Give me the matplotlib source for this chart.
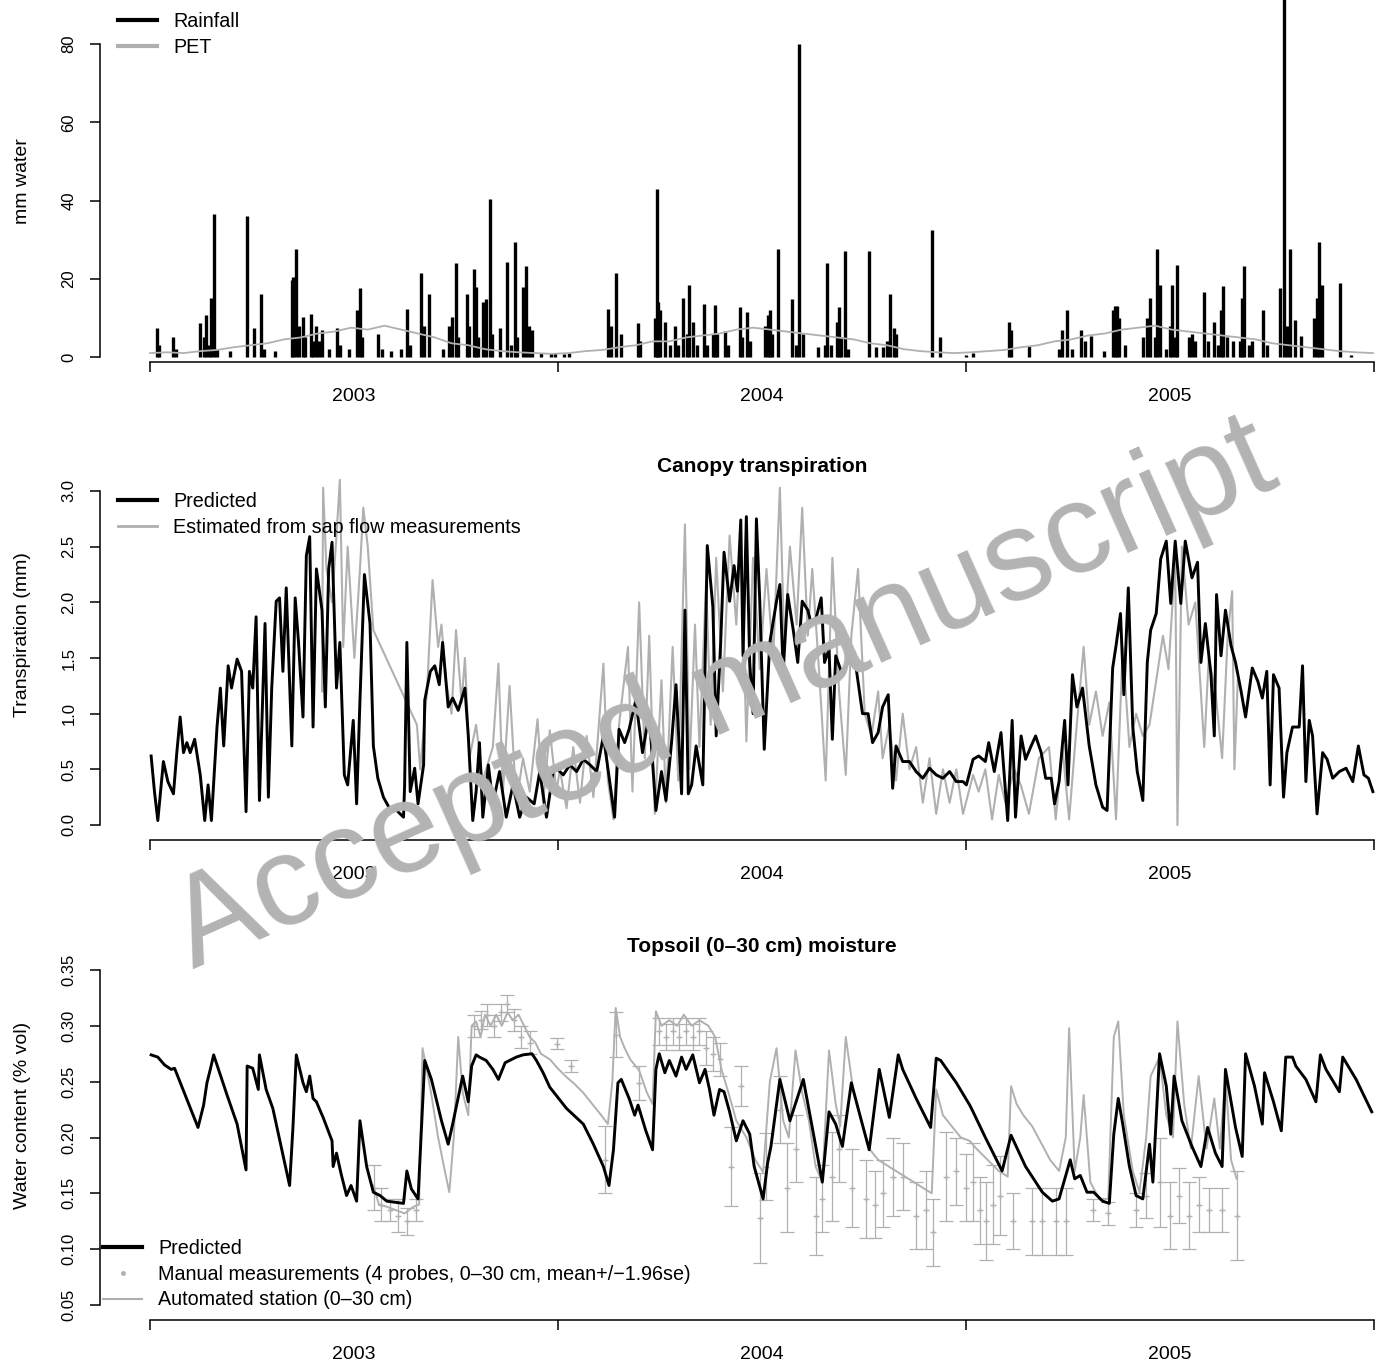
import numpy as np
import matplotlib.pyplot as plt
from matplotlib.lines import Line2D
import matplotlib.transforms as mtransforms

plt.rcParams['font.family'] = ['Liberation Sans', 'DejaVu Sans']

GREY = '#b0b0b0'

# ---------------- data (day 0 = 1 Jan 2003) ----------------
# rainfall events (mm)
rain_day = [6, 8, 21, 23, 45, 48, 50, 53, 55, 57, 60, 72, 87, 93, 99, 102, 112, 127, 128, 131, 133,
            137, 139, 144, 146, 149, 151, 154, 160, 167, 170, 178, 185, 188, 190, 204, 208, 216, 225,
            230, 233, 243, 245, 250, 262, 268, 270, 274, 276, 284, 286, 290, 292, 294, 298, 301, 304,
            306, 313, 320, 323, 327, 329, 334, 337, 339, 342, 350,
            359, 363, 371, 375, 410, 413, 417, 422, 437, 439, 452, 454, 455, 457, 461, 466, 470, 473,
            477, 481, 483, 486, 490, 496, 499, 504, 506, 508, 515, 518, 528, 530, 535, 537, 551, 553,
            555, 557, 562, 575, 578, 581, 585, 598, 604, 606, 610, 615, 617, 619, 622, 625, 644, 650,
            656, 660, 663, 666, 668, 700, 707,
            731, 737, 769, 771, 787, 814, 817, 821, 826, 834, 837, 843, 854, 862, 864, 866, 868, 873,
            889, 893, 895, 900, 902, 904, 910, 913, 915, 918, 920, 930, 933, 936, 944, 947, 953, 956,
            959, 961, 964, 970, 976, 978, 980, 984, 987, 997, 1000, 1012, 1015, 1018, 1021, 1025,
            1031, 1042, 1045, 1047, 1049, 1066, 1075]
rain_mm = [7.4, 3, 5, 2, 8.6, 5, 10.7, 3, 15, 36.5, 2, 1.5, 36, 7.4, 16, 2, 1.5, 19.8, 20.5, 27.6, 8,
           10.3, 5, 11, 4, 7.8, 4, 7, 2, 7.4, 3, 2, 12, 17.7, 5, 5.8, 2, 1.5, 2,
           12.3, 3, 21.4, 8, 16, 2, 8, 10.3, 23.9, 5, 16, 8, 22.6, 18, 5, 14, 14.8, 40.5,
           6, 7.4, 24.3, 3, 29.4, 5, 18, 23.2, 8, 7, 1,
           1, 1, 0.8, 1, 12.3, 8, 21.4, 5.8, 8.6, 4, 10, 43, 14, 12, 9, 3, 7.8, 3,
           15.2, 6, 18.5, 9, 3, 13.6, 3, 6, 13.2, 6, 6.6, 3, 12.8, 5, 11.5, 4, 8, 10.7,
           12, 6, 27.6, 14.8, 3, 80, 5.8, 2.5, 3, 24, 3, 9, 12.8, 5, 27, 2, 27, 2.5,
           2.5, 4, 16, 7.4, 6, 32.5, 5,
           0.5, 1, 9, 7, 2.9, 2, 7, 12, 2, 7, 4, 5.3, 1.5, 12, 13, 13, 10, 3,
           5, 9.9, 15.2, 5, 27.5, 18.5, 2, 8, 18.5, 5, 23.5, 5, 5.8, 4, 16.5, 4, 9, 3,
           12, 18.1, 5, 4, 4, 15.2, 23.3, 3, 4, 12, 3, 17.7, 95, 8, 27.5, 9.5,
           5.3, 10, 15, 29.5, 18.5, 19, 0.5]

# potential evapotranspiration (mm)
pet_day = [0, 15, 30, 45, 60, 75, 90, 105, 120, 135, 150, 165, 180, 195, 210, 225, 240, 255, 270,
           285, 300, 315, 330, 345, 360, 375, 390, 405, 420, 435, 450, 465, 480, 495, 510, 525, 540,
           555, 570, 585, 600, 615, 630, 645, 660, 675, 690, 705, 720, 735, 750, 765, 780, 795, 810,
           825, 840, 855, 870, 885, 900, 915, 930, 945, 960, 975, 990, 1005, 1020, 1035, 1050, 1065,
           1080, 1095]
pet_mm = [1.0, 1.2, 1.0, 1.5, 1.8, 2.5, 3.0, 3.5, 4.5, 5.0, 6.0, 6.5, 7.5, 7.0, 8.0, 7.0, 6.0, 5.0,
          3.5, 3.0, 2.0, 1.5, 1.2, 1.0, 0.8, 1.0, 1.5, 1.8, 2.5, 3.0, 4.0, 4.0, 5.0, 5.5, 6.0, 7.0,
          7.5, 7.0, 6.5, 6.0, 5.5, 5.0, 4.5, 3.5, 3.0, 2.0, 1.5, 1.2, 1.0, 1.2, 1.5, 1.8, 2.5, 3.0,
          4.0, 4.5, 5.5, 6.0, 7.0, 7.5, 8.0, 7.0, 6.5, 6.0, 5.5, 5.0, 4.5, 3.5, 3.0, 2.5, 2.0, 1.5,
          1.2, 1.0]

# canopy transpiration, predicted (mm)
tp_pred_day = [1, 4, 7, 12, 16, 21, 24, 27, 30, 33, 36, 40, 45, 49, 52, 55, 60, 63, 66, 70, 73, 78,
               82, 86, 89, 92, 95, 98, 103, 106, 109, 113, 116, 119, 122, 127, 130, 133, 137, 140,
               143, 146, 149, 154, 157, 160, 163, 167, 170, 174, 177, 182, 185, 188, 192, 197, 200,
               204, 209, 215, 221, 227, 228, 230, 233, 237, 240, 245, 246, 251, 255, 259, 262, 267,
               271, 276, 282, 285, 289, 292, 295, 298, 303, 307, 313, 319, 325, 331, 337, 344, 349,
               355, 361,
               364, 370, 376, 382, 388, 394, 400, 406, 412, 416, 420, 425, 429, 435, 441, 447, 453,
               458, 462, 467, 471, 476, 479, 482, 485, 489, 495, 499, 504, 507, 511, 514, 519, 523,
               526, 529, 531, 534, 537, 540, 543, 546, 550, 555, 561, 564, 567, 571, 576, 580, 584,
               589, 592, 596, 601, 604, 608, 611, 614, 620, 626, 632, 638, 643, 647, 652, 656, 661,
               665, 668, 674, 680, 686, 692, 698, 704, 710, 716, 722, 728,
               731, 737, 742, 748, 751, 756, 762, 768, 772, 775, 780, 784, 789, 793, 798, 802, 807,
               810, 814, 819, 822, 826, 830, 835, 841, 847, 853, 857, 862, 865, 869, 872, 876, 880,
               884, 889, 893, 896, 901, 905, 910, 914, 918, 923, 927, 933, 938, 941, 945, 950, 953,
               955, 959, 963, 968, 972, 977, 981, 987, 992, 996, 1000, 1003, 1006, 1011, 1015, 1018,
               1023, 1029, 1032, 1035, 1038, 1041, 1045, 1050, 1054, 1059, 1065, 1071, 1077, 1082,
               1087, 1091, 1095]
tp_pred = [0.62, 0.30, 0.04, 0.57, 0.39, 0.28, 0.65, 0.97, 0.65, 0.74, 0.65, 0.77, 0.45, 0.04, 0.36,
           0.04, 0.88, 1.23, 0.71, 1.43, 1.23, 1.49, 1.38, 0.12, 1.38, 1.23, 1.87, 0.22, 1.81, 0.25,
           1.23, 2.01, 2.04, 1.38, 2.13, 0.71, 2.04, 1.64, 0.97, 2.42, 2.59, 0.88, 2.30, 1.93, 1.06,
           2.30, 2.54, 1.23, 1.64, 0.45, 0.36, 0.94, 0.19, 1.12, 2.25, 1.81, 0.71, 0.42, 0.25, 0.14,
           0.13, 0.07, 0.36, 1.64, 0.30, 0.51, 0.19, 0.54, 1.12, 1.38, 1.43, 1.26, 1.64, 1.06, 1.14,
           1.03, 1.23, 0.80, 0.04, 0.30, 0.74, 0.07, 0.54, 0.19, 0.48, 0.07, 0.36, 0.07, 0.25, 0.19,
           0.48, 0.07, 0.48,
           0.51, 0.45, 0.54, 0.48, 0.59, 0.54, 0.48, 0.80, 0.36, 0.07, 0.86, 0.74, 0.86, 1.12, 0.65,
           1.00, 0.13, 0.48, 0.22, 0.74, 1.26, 0.28, 1.93, 0.28, 0.36, 0.71, 0.36, 2.51, 1.96, 0.80,
           1.64, 2.45, 2.01, 2.33, 2.10, 2.74, 1.52, 2.77, 1.46, 1.00, 2.75, 2.01, 0.68, 1.64, 2.01,
           2.16, 1.38, 2.07, 1.75, 1.46, 2.01, 1.93, 1.81, 1.84, 2.04, 1.46, 1.58, 0.77, 1.52, 1.35,
           1.49, 1.43, 1.00, 1.00, 0.74, 0.83, 1.06, 1.17, 0.33, 0.71, 0.57, 0.57, 0.48, 0.42, 0.51,
           0.45, 0.42, 0.48, 0.39, 0.39,
           0.36, 0.59, 0.62, 0.57, 0.74, 0.48, 0.83, 0.04, 0.94, 0.07, 0.80, 0.59, 0.71, 0.80, 0.65,
           0.42, 0.42, 0.19, 0.39, 0.94, 0.36, 1.35, 1.06, 1.23, 0.71, 0.36, 0.16, 0.13, 1.41, 1.61,
           1.90, 1.17, 2.13, 0.88, 0.48, 0.22, 1.46, 1.75, 1.90, 2.39, 2.55, 1.99, 2.55, 1.99, 2.55,
           2.22, 2.36, 1.46, 1.81, 1.35, 0.80, 2.07, 1.52, 1.93, 1.61, 1.46, 1.20, 0.97, 1.41, 1.29,
           1.14, 1.38, 0.36, 1.35, 1.23, 0.25, 0.65, 0.88, 0.88, 1.43, 0.39, 0.94, 0.80, 0.10, 0.65,
           0.59, 0.42, 0.48, 0.51, 0.39, 0.71, 0.45, 0.42, 0.30]

# canopy transpiration estimated from sap flow (mm)
tp_est_day = [154, 155, 158, 163, 167, 170, 173, 177, 183, 188, 191, 195, 200, 239, 242, 248, 253,
              258, 261, 265, 270, 274, 279, 282, 286, 292, 298, 307, 312, 316, 322, 328, 334, 340,
              347, 352, 358, 364,
              367, 373, 379, 385, 391, 397, 406, 410, 415, 420, 428, 432, 438, 443, 447, 452, 458,
              462, 468, 473, 479, 483, 488, 492, 498, 502, 507, 513, 519, 525, 529, 534, 540, 546,
              552, 558, 564, 568, 573, 579, 584, 589, 593, 599, 605, 611, 617, 623, 628, 634, 640,
              646, 652, 656, 662, 668, 674, 680, 686, 692, 698, 704, 710, 716, 722, 728,
              737, 742, 748, 754, 760, 766, 774, 780, 787, 796, 805, 811, 817, 823, 829, 836, 841,
              847, 853, 859, 865, 871, 877, 883, 889, 895, 901, 907, 912, 918, 920, 924, 930, 936,
              944, 948, 954, 960, 965, 969, 971, 974]
tp_est = [1.2, 3.03, 2.3, 2.0, 2.6, 3.1, 1.6, 2.5, 1.5, 2.3, 2.85, 2.5, 1.75, 0.9, 0.5, 1.2, 2.2,
          1.6, 1.8, 1.3, 1.0, 1.75, 1.1, 1.5, 0.6, 0.9, 0.4, 0.7, 1.45, 0.3, 1.25, 0.2, 0.6, 0.3,
          0.95, 0.2, 0.85, 0.3,
          0.5, 0.15, 0.7, 0.2, 0.8, 0.25, 1.45, 0.4, 0.05, 0.9, 1.6, 0.3, 2.0, 0.6, 1.7, 0.1, 1.3,
          0.2, 1.6, 0.4, 2.7, 0.5, 1.8, 0.7, 2.2, 0.9, 2.4, 1.2, 2.6, 1.8, 2.65, 0.75, 2.4, 1.4,
          2.3, 1.5, 3.03, 1.6, 2.5, 1.8, 2.85, 1.7, 2.3, 1.4, 0.4, 2.4, 1.2, 0.45, 1.7, 2.3, 1.0,
          0.8, 1.2, 0.6, 0.9, 0.4, 1.0, 0.5, 0.7, 0.2, 0.6, 0.1, 0.5, 0.2, 0.5, 0.1,
          0.45, 0.3, 0.5, 0.05, 0.45, 0.2, 0.5, 0.35, 0.1, 0.6, 0.7, 0.05, 0.7, 0.05, 0.8, 1.6, 0.9,
          1.2, 0.8, 1.1, 0.05, 1.6, 0.7, 1.0, 0.8, 0.9, 1.3, 1.7, 1.4, 2.4, 0.0, 2.5, 1.8, 2.0,
          0.7, 1.5, 1.2, 0.6, 1.7, 2.1, 0.5, 1.3]

# topsoil moisture, predicted (vol fraction)
sm_pred_day = [1, 7, 13, 19, 22, 43, 48, 51, 54, 57, 69, 78, 86, 87, 92, 97, 98, 104, 110, 125, 128,
               131, 137, 140, 143, 146, 149, 155, 163, 164, 167, 171, 176, 180, 185, 188, 194, 200,
               206, 212, 227, 230, 234, 240, 246, 252, 261, 267, 271, 280, 285, 288, 292, 295, 301,
               307, 312, 318, 322, 328, 334, 342, 346, 352,
               358, 373, 388, 397, 406, 411, 415, 419, 422, 429, 434, 437, 444, 450, 453, 456, 461,
               465, 471, 476, 480, 486, 492, 497, 501, 505, 510, 514, 519, 525, 531, 537, 541, 549,
               553, 556, 564, 573, 585, 593, 602, 608, 614, 620, 628, 637, 644, 653, 662, 670, 674,
               686, 699, 704, 708, 722, 734,
               737, 748, 763, 771, 784, 799, 808, 814, 820, 824, 828, 833, 839, 845, 853, 859, 863,
               867, 871, 877, 883, 889, 895, 898, 904, 910, 914, 917, 924, 933, 941, 947, 954, 960,
               963, 972, 978, 981, 989, 996, 998, 1006, 1013, 1017, 1023, 1026, 1035, 1044, 1048,
               1053, 1065, 1068, 1080, 1094]
sm_pred = [0.274, 0.272, 0.265, 0.261, 0.262, 0.209, 0.229, 0.249, 0.261, 0.274, 0.238, 0.212, 0.171,
           0.264, 0.262, 0.243, 0.274, 0.243, 0.226, 0.157, 0.209, 0.274, 0.249, 0.241, 0.255, 0.235,
           0.232, 0.218, 0.197, 0.174, 0.186, 0.168, 0.148, 0.157, 0.143, 0.215, 0.174, 0.151, 0.148,
           0.143, 0.141, 0.170, 0.154, 0.145, 0.269, 0.252, 0.215, 0.194, 0.212, 0.255, 0.232, 0.264,
           0.274, 0.272, 0.269, 0.261, 0.252, 0.267, 0.269, 0.272, 0.274, 0.275, 0.269, 0.258,
           0.245, 0.226, 0.212, 0.194, 0.174, 0.157, 0.189, 0.249, 0.252, 0.235, 0.220, 0.229, 0.206,
           0.189, 0.261, 0.275, 0.258, 0.269, 0.255, 0.272, 0.261, 0.274, 0.249, 0.261, 0.243, 0.220,
           0.243, 0.241, 0.223, 0.197, 0.215, 0.203, 0.174, 0.145, 0.177, 0.192, 0.252, 0.215, 0.252,
           0.209, 0.160, 0.223, 0.212, 0.192, 0.249, 0.215, 0.189, 0.261, 0.218, 0.274, 0.261, 0.235,
           0.209, 0.271, 0.269, 0.249, 0.229,
           0.223, 0.200, 0.170, 0.202, 0.174, 0.151, 0.143, 0.145, 0.166, 0.180, 0.163, 0.166, 0.151,
           0.151, 0.143, 0.141, 0.203, 0.235, 0.212, 0.174, 0.148, 0.145, 0.194, 0.160, 0.275, 0.246,
           0.203, 0.255, 0.215, 0.192, 0.174, 0.209, 0.186, 0.174, 0.261, 0.209, 0.183, 0.275, 0.246,
           0.212, 0.258, 0.232, 0.206, 0.272, 0.272, 0.264, 0.252, 0.232, 0.274, 0.261, 0.241, 0.272,
           0.252, 0.223]

# automated station (0-30 cm)
sm_auto_day = [200, 205, 212, 220, 228, 236, 241, 244, 248, 252, 258, 264, 268, 272, 276, 280, 285,
               288, 292, 296, 300, 305, 310, 315, 320, 325, 330, 335, 340, 345, 350, 358,
               365, 372, 380, 388, 396, 404, 410, 414, 417, 421, 425, 430, 438, 445, 450, 453, 458,
               465, 472, 478, 485, 492, 500, 506, 512, 518, 525, 534, 542, 549, 555, 561, 567, 572,
               578, 584, 590, 596, 602, 608, 614, 618, 623, 630, 637, 644, 652, 660, 668, 676, 684,
               692, 700, 704, 710, 718, 726, 734,
               740, 750, 760, 768, 771, 776, 782, 790, 798, 806, 814, 820, 823, 828, 833, 836, 842,
               850, 858, 863, 867, 872, 880, 886, 892, 896, 904, 910, 916, 920, 926, 932, 939, 946,
               953, 958, 963, 968, 973]
sm_auto = [0.157, 0.140, 0.138, 0.135, 0.132, 0.138, 0.140, 0.280, 0.260, 0.238, 0.200, 0.170,
           0.151, 0.200, 0.290, 0.240, 0.220, 0.300, 0.304, 0.290, 0.310, 0.300, 0.310, 0.300, 0.312,
           0.305, 0.310, 0.300, 0.290, 0.285, 0.275, 0.270,
           0.262, 0.255, 0.248, 0.240, 0.230, 0.220, 0.212, 0.250, 0.316, 0.290, 0.280, 0.270, 0.260,
           0.240, 0.230, 0.313, 0.300, 0.305, 0.300, 0.310, 0.300, 0.305, 0.300, 0.290, 0.260, 0.240,
           0.215, 0.200, 0.180, 0.169, 0.250, 0.280, 0.215, 0.200, 0.278, 0.240, 0.215, 0.174, 0.160,
           0.278, 0.230, 0.210, 0.290, 0.240, 0.215, 0.190, 0.180, 0.175, 0.170, 0.165, 0.160, 0.155,
           0.150, 0.243, 0.220, 0.210, 0.200, 0.197,
           0.190, 0.180, 0.170, 0.165, 0.246, 0.230, 0.220, 0.210, 0.195, 0.180, 0.170, 0.200, 0.298,
           0.170, 0.200, 0.238, 0.160, 0.145, 0.145, 0.290, 0.304, 0.220, 0.170, 0.151, 0.200, 0.255,
           0.272, 0.220, 0.200, 0.304, 0.230, 0.190, 0.255, 0.190, 0.235, 0.190, 0.255, 0.180, 0.163]

# manual measurements: mean and 1.96 se
sm_man_day = [201, 207, 215, 222, 230, 238, 290, 296, 302, 308, 314, 320, 326, 332, 340,
              364, 377, 407, 417, 438, 456, 462, 468, 474, 480, 486, 492, 498, 504, 510, 520, 529,
              546, 552, 564, 570, 578, 596, 602, 611, 617, 629, 641, 649, 656, 665, 674, 686, 695,
              701, 713, 722,
              731, 737, 743, 749, 755, 761, 773, 790, 799, 811, 820, 844, 858, 883, 892, 904, 913,
              921, 930, 939, 948, 960, 973]
sm_man = [0.155, 0.140, 0.135, 0.130, 0.125, 0.135, 0.300, 0.305, 0.310, 0.300, 0.312, 0.320, 0.305,
          0.290, 0.285,
          0.284, 0.264, 0.180, 0.292, 0.249, 0.295, 0.290, 0.295, 0.290, 0.295, 0.290, 0.295, 0.280,
          0.275, 0.270, 0.174, 0.246, 0.128, 0.174, 0.225, 0.155, 0.190, 0.130, 0.145, 0.165, 0.190,
          0.155, 0.145, 0.140, 0.150, 0.165, 0.165, 0.130, 0.135, 0.115, 0.165, 0.170,
          0.155, 0.160, 0.135, 0.125, 0.140, 0.148, 0.125, 0.125, 0.125, 0.125, 0.125, 0.135, 0.132,
          0.135, 0.148, 0.160, 0.130, 0.148, 0.130, 0.140, 0.135, 0.135, 0.130]
sm_man_err = [0.020, 0.015, 0.010, 0.015, 0.012, 0.010, 0.010, 0.008, 0.010, 0.010, 0.008, 0.008,
              0.010, 0.010, 0.010,
              0.005, 0.005, 0.030, 0.020, 0.015, 0.012, 0.012, 0.012, 0.012, 0.012, 0.012, 0.012,
              0.015, 0.015, 0.015, 0.035, 0.018, 0.040, 0.030, 0.030, 0.040, 0.030, 0.035, 0.030,
              0.040, 0.030, 0.035, 0.035, 0.030, 0.030, 0.035, 0.030, 0.030, 0.035, 0.030, 0.040,
              0.030,
              0.030, 0.035, 0.030, 0.035, 0.035, 0.035, 0.025, 0.030, 0.030, 0.030, 0.030, 0.010,
              0.010, 0.015, 0.020, 0.040, 0.030, 0.025, 0.030, 0.025, 0.020, 0.020, 0.040]

years = ['2003', '2004', '2005']
year_starts = [0, 365, 731, 1096]

# ---------------- figure ----------------
W, H = 1380, 1369
fig = plt.figure(figsize=(W / 100, H / 100), dpi=100)

PPD = 1224 / 1096.0
XLIM = (-50 / PPD, 1096 + 6 / PPD)


def make_axes(top, bottom, y_at, y_val, ppu, yticks, ytlabels, ylabel):
    ax = fig.add_axes([100 / W, 1 - bottom / H, 1280 / W, (bottom - top) / H])
    ax.set_xlim(*XLIM)
    ax.set_ylim(y_val - (bottom - y_at) / ppu, y_val + (y_at - top) / ppu)
    for s in ['top', 'right']:
        ax.spines[s].set_visible(False)
    ax.spines['left'].set_bounds(yticks[0], yticks[-1])
    ax.spines['bottom'].set_bounds(0, 1096)
    for s in ['left', 'bottom']:
        ax.spines[s].set_linewidth(1.1)
    ax.set_xticks(year_starts)
    ax.set_xticklabels([])
    ax.set_xticks([182.5, 548, 913.5], minor=True)
    ax.set_xticklabels(years, minor=True)
    ax.tick_params(axis='x', which='major', length=7, width=1.1)
    ax.tick_params(axis='x', which='minor', length=0, pad=19, labelsize=14)
    ax.set_yticks(yticks)
    ax.set_yticklabels(ytlabels, rotation=90, va='center')
    ax.tick_params(axis='y', length=7, width=1.1, pad=10, labelsize=12)
    ax.set_ylabel(ylabel, fontsize=14)
    ax.yaxis.set_label_coords(-0.054, 0.5)
    return ax


def legend(ax, handles, labels, x, y):
    ax.legend(handles, labels, loc='upper left', bbox_to_anchor=(x / W, 1 - y / H),
              bbox_transform=fig.transFigure, frameon=False, fontsize=14.2,
              handlelength=2.0, handletextpad=0.8, labelspacing=0.34,
              borderpad=0, borderaxespad=0)


def title(ax, text, y_px, top, bottom):
    trans = mtransforms.blended_transform_factory(ax.transData, ax.transAxes)
    ax.text(548, (bottom - y_px) / (bottom - top), text, transform=trans,
            ha='center', va='center', fontsize=15, fontweight='bold')


# top panel: rainfall and PET
ax1 = make_axes(0, 362, 357, 0, (357 - 44) / 80.0,
                [0, 20, 40, 60, 80], ['0', '20', '40', '60', '80'], 'mm water')
ax1.vlines(rain_day, 0, rain_mm, color='black', lw=2.4)
ax1.plot(pet_day, pet_mm, color=GREY, lw=1.3)
legend(ax1, [Line2D([], [], color='black', lw=3), Line2D([], [], color=GREY, lw=3)],
       ['Rainfall', 'PET'], 118, 12)

# middle panel: canopy transpiration
ax2 = make_axes(430, 840, 825, 0, (825 - 491) / 3.0,
                [0, 0.5, 1.0, 1.5, 2.0, 2.5, 3.0],
                ['0.0', '0.5', '1.0', '1.5', '2.0', '2.5', '3.0'], 'Transpiration (mm)')
ax2.plot(tp_est_day, tp_est, color=GREY, lw=1.5, zorder=2)
ax2.plot(tp_pred_day, tp_pred, color='black', lw=2.1, zorder=3)
title(ax2, 'Canopy transpiration', 467, 430, 840)
legend(ax2, [Line2D([], [], color='black', lw=3), Line2D([], [], color=GREY, lw=2)],
       ['Predicted', 'Estimated from sap flow measurements'], 118, 492)

# bottom panel: topsoil moisture
ax3 = make_axes(910, 1320, 1305, 0.05, (1305 - 970) / 0.30,
                [0.05, 0.10, 0.15, 0.20, 0.25, 0.30, 0.35],
                ['0.05', '0.10', '0.15', '0.20', '0.25', '0.30', '0.35'],
                'Water content (% vol)')
ax3.plot(sm_auto_day, sm_auto, color=GREY, lw=1.4, zorder=2)
ax3.errorbar(sm_man_day, sm_man, yerr=sm_man_err, fmt='+', color=GREY, ms=4,
             elinewidth=0.9, capsize=5, capthick=0.9, zorder=2)
ax3.plot(sm_pred_day, sm_pred, color='black', lw=2.1, zorder=3)
title(ax3, 'Topsoil (0\u201330 cm) moisture', 947, 910, 1320)
legend(ax3, [Line2D([], [], color='black', lw=3),
             Line2D([], [], ls='none', marker='.', color=GREY, ms=5),
             Line2D([], [], color=GREY, lw=1.5)],
       ['Predicted', 'Manual measurements (4 probes, 0\u201330 cm, mean+/\u22121.96se)',
        'Automated station (0\u201330 cm)'], 103, 1239)

# watermark
fig.text(738 / W, 1 - 727 / H, 'Accepted manuscript', rotation=24, rotation_mode='anchor',
         ha='center', va='baseline', fontsize=92, color='#b3b3b3', zorder=10)

fig.savefig('out.png', dpi=100)
